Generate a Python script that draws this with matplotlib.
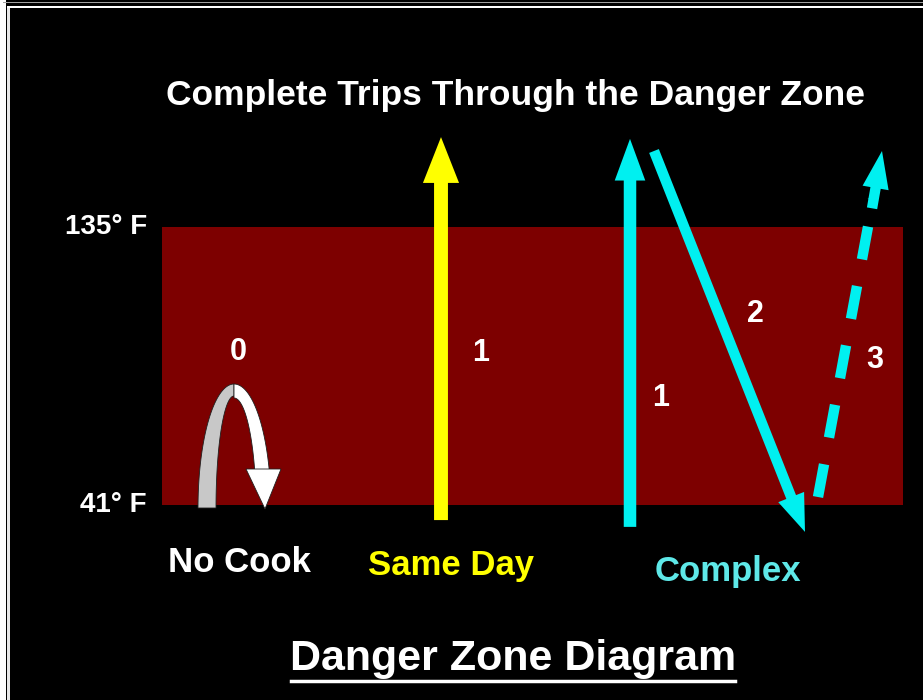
import numpy as np
import matplotlib
matplotlib.use('Agg')
import matplotlib.pyplot as plt
from matplotlib.patches import FancyArrowPatch, Polygon, Rectangle

# temperatures (deg F) bounding the danger zone
thresholds = [41, 135]
threshold_labels = ['41\u00b0 F', '135\u00b0 F']

# cooling methods and their trips through the zone
categories = ['No Cook', 'Same Day', 'Complex']
cat_colors = ['white', '#ffff00', '#5ee8e8']

# trip arrows: (start temp, end temp)
same_day_trips = [(35.9, 165.4)]
complex_trips = [(33.6, 164.8), (160.7, 31.9), (43.7, 160.7)]
trip_numbers = ['1', '2', '3']

title = 'Complete Trips Through the Danger Zone'
caption = 'Danger Zone Diagram'

W, H = 923, 700
# pixel row -> temperature, the y-scale of the drawing
px_per_deg = (505 - 227) / (135 - 41)
def py(p):
    return 41 + (505 - p) / px_per_deg

fig = plt.figure(figsize=(W / 100, H / 100), dpi=100, facecolor='black')
ax = fig.add_axes([0, 0, 1, 1])
ax.patch.set_visible(False)
ax.set_xlim(0, W)
ax.set_ylim(py(H), py(0))
ax.axis('off')

font = 'Liberation Sans'
plt.rcParams['font.family'] = [font, 'DejaVu Sans']

# frame
fig.patches.append(Rectangle((0, 0), 5.5 / W, 1, transform=fig.transFigure,
                             fc='white', lw=0))
fig.patches.append(Rectangle((7.5 / W, 0), 2 / W, 1 - 6 / H, transform=fig.transFigure,
                             fc='#e8e8e8', lw=0))
fig.patches.append(Rectangle((3 / W, 1 - 3 / H), 1, 1.5 / H, transform=fig.transFigure,
                             fc='#a0a0a0', lw=0))
fig.patches.append(Rectangle((7.5 / W, 1 - 8 / H), 1, 2 / H, transform=fig.transFigure,
                             fc='white', lw=0))

# danger zone band
ax.axhspan(thresholds[0], thresholds[1], xmin=162 / W, xmax=903 / W,
           color='#7d0000', lw=0)
for t, lab in zip(thresholds, threshold_labels):
    ax.text(147, t, lab, color='white', fontsize=20, fontweight='bold',
            ha='right', va='center')

ax.text(515, py(96), title, color='white', fontsize=25.5,
        fontweight='bold', ha='center', va='center')

# category labels
lab_x = [239, 451, 728]
lab_y = [563, 565, 572]
for x, yy, c, col in zip(lab_x, lab_y, categories, cat_colors):
    ax.text(x, py(yy), c, color=col, fontsize=25, fontweight='bold',
            ha='center', va='center')

# caption with underline
ax.text(513, py(659), caption, color='white', fontsize=31, fontweight='bold',
        ha='center', va='center')
ax.plot([291, 735], [py(681), py(681)], color='white', lw=2.5)

def arrow(x0, y0, x1, y1, col, tw, hw, hl):
    p = FancyArrowPatch((x0, y0), (x1, y1),
                        arrowstyle='simple,head_length=%g,head_width=%g,tail_width=%g' % (hl, hw, tw),
                        mutation_scale=1, color=col, lw=0, shrinkA=0, shrinkB=0)
    ax.add_patch(p)

# same day: one trip
yel = cat_colors[1]
s, e = same_day_trips[0]
arrow(441, s, 441, e, yel, 10, 26, 33)
ax.text(481, py(353), '1', color='white', fontsize=22, fontweight='bold',
        ha='center', va='center')

# complex: three trips
cy = '#00f0f0'
xs = [(630, 630), (654, 805), (818, 882)]
arrow(xs[0][0], complex_trips[0][0], xs[0][1], complex_trips[0][1], cy, 9, 22, 30)
arrow(xs[1][0], complex_trips[1][0], xs[1][1], complex_trips[1][1], cy, 7.5, 20, 27)
# dashed third trip
s, e = complex_trips[2]
frac = 0.86
xm = xs[2][0] + (xs[2][1] - xs[2][0]) * frac
ym = s + (e - s) * frac
ax.plot([xs[2][0], xm], [s, ym], color=cy, lw=7.5, dashes=(3.2, 2.6),
        solid_capstyle='butt', dash_capstyle='butt')
arrow(xm - 1, ym - 3, xs[2][1], e, cy, 7.5, 19, 27)
num_pos = [(661, 398), (755, 314), (875, 360)]
for (x, yy), n in zip(num_pos, trip_numbers):
    ax.text(x, py(yy), n, color='white', fontsize=22, fontweight='bold',
            ha='center', va='center')

# no cook: curved arrow that never completes a trip
cx, base = 234, 508
t = np.linspace(np.pi / 2, np.pi, 40)
outer = np.c_[cx + 36 * np.cos(t), base - 124 * np.sin(t)]
inner = np.c_[cx + 18 * np.cos(t), base - 112 * np.sin(t)]
grey = np.vstack([outer, inner[::-1]])
ax.add_patch(Polygon(np.c_[grey[:, 0], py(grey[:, 1])], closed=True,
                     fc='#c8c8c8', ec='#202020', lw=0.6))
t = np.linspace(0.31, np.pi / 2, 40)
outer = np.c_[cx + 37 * np.cos(t), base - 124 * np.sin(t)]
inner = np.c_[cx + 22 * np.cos(t), base - 110 * np.sin(t)]
wht = np.vstack([outer, inner[::-1]])
ax.add_patch(Polygon(np.c_[wht[:, 0], py(wht[:, 1])], closed=True,
                     fc='white', ec='#202020', lw=0.6))
head = np.array([[246, 469], [281, 469], [265, 509]])
ax.add_patch(Polygon(np.c_[head[:, 0], py(head[:, 1])], closed=True,
                     fc='white', ec='#202020', lw=0.6))
ax.text(238, py(352), '0', color='white', fontsize=22, fontweight='bold',
        ha='center', va='center')

fig.savefig('out.png', dpi=100, facecolor='black')
